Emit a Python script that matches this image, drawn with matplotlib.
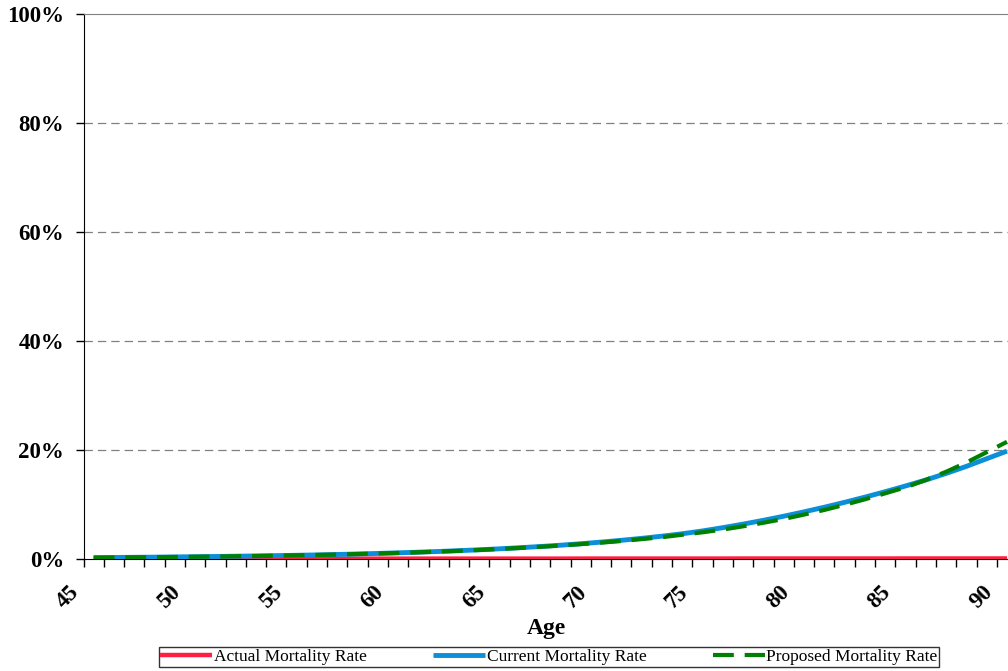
import matplotlib
matplotlib.use("Agg")
import matplotlib.pyplot as plt
from matplotlib.ticker import MultipleLocator, FuncFormatter
import numpy as np

ages = list(range(45, 91))
actual = [0.05, 0.05, 0.05, 0.05, 0.05, 0.05, 0.05, 0.05, 0.06, 0.06,
          0.06, 0.06, 0.06, 0.06, 0.06, 0.06, 0.07, 0.07, 0.07, 0.07,
          0.07, 0.07, 0.07, 0.07, 0.08, 0.08, 0.08, 0.08, 0.08, 0.08,
          0.08, 0.08, 0.09, 0.09, 0.09, 0.09, 0.09, 0.09, 0.09, 0.09,
          0.10, 0.10, 0.10, 0.10, 0.10, 0.10]
current = [0.25, 0.28, 0.31, 0.34, 0.38, 0.42, 0.46, 0.51, 0.56, 0.62,
           0.68, 0.75, 0.83, 0.92, 1.02, 1.13, 1.25, 1.38, 1.53, 1.69,
           1.87, 2.07, 2.29, 2.53, 2.80, 3.10, 3.43, 3.79, 4.19, 4.63,
           5.15, 5.75, 6.40, 7.10, 7.85, 8.65, 9.50, 10.40, 11.35, 12.35,
           13.40, 14.50, 15.70, 17.00, 18.40, 19.80]
proposed = [0.24, 0.27, 0.30, 0.33, 0.37, 0.41, 0.45, 0.50, 0.55, 0.61,
            0.67, 0.74, 0.82, 0.91, 1.01, 1.11, 1.23, 1.36, 1.50, 1.66,
            1.84, 2.03, 2.24, 2.47, 2.73, 3.00, 3.30, 3.65, 4.00, 4.45,
            4.90, 5.40, 6.00, 6.65, 7.35, 8.15, 9.00, 9.95, 10.95, 12.05,
            13.15, 14.50, 16.00, 17.70, 19.60, 21.50]
x_ticks_major = [45, 50, 55, 60, 65, 70, 75, 80, 85, 90]
y_ticks = [0, 20, 40, 60, 80, 100]

serif = ["Liberation Serif", "DejaVu Serif"]
plt.rcParams['font.family'] = serif

fig = plt.figure(figsize=(10.08, 6.71), dpi=100)
ax = fig.add_axes([83.5 / 1008, 112 / 671, 1 - 83.5 / 1008 + 0.001, 545 / 671])

xpos = np.array(ages) + 0.5  # categories centred between tick marks

l1, = ax.plot(xpos, actual, color="#FF1F44", lw=3.2, solid_capstyle="butt",
              label="Actual Mortality Rate", zorder=3)
l2, = ax.plot(xpos, current, color="#0A8FD8", lw=3.5, solid_capstyle="butt",
              label="Current Mortality Rate", zorder=4)
l3, = ax.plot(xpos, proposed, color="#008000", lw=3.0, dashes=(5, 2.6),
              dash_capstyle="butt", label="Proposed Mortality Rate", zorder=5)

ax.set_xlim(45, 90.6)
ax.set_ylim(0, 100)

ax.xaxis.set_major_locator(MultipleLocator(1))
ax.xaxis.set_major_formatter(FuncFormatter(
    lambda v, p: f"{int(round(v))}" if int(round(v)) in x_ticks_major else ""))
ax.set_yticks(y_ticks)
ax.yaxis.set_major_formatter(FuncFormatter(lambda v, p: f"{int(v)}%"))

ax.tick_params(axis="x", direction="out", length=6, width=1, color="black",
               pad=10, labelsize=16.5)
ax.tick_params(axis="y", direction="out", length=6, width=1, color="black",
               pad=8, labelsize=16.5)
for lab in ax.get_xticklabels():
    lab.set_rotation(45)
    lab.set_ha("right")
    lab.set_va("top")
    lab.set_fontweight("bold")
for lab in ax.get_yticklabels():
    lab.set_fontweight("bold")

for yv in y_ticks[1:-1]:
    ax.axhline(yv, color="#808080", lw=0.9, dashes=(6.7, 4), zorder=1)

ax.spines["left"].set_color("black")
ax.spines["bottom"].set_color("black")
ax.spines["top"].set_color("#808080")
ax.spines["right"].set_visible(False)

ax.set_xlabel("Age", fontsize=17, fontweight="bold", labelpad=4)

leg = fig.legend(handles=[l1, l2, l3], loc="center",
                 bbox_to_anchor=(549 / 1008, 14 / 671), ncol=3,
                 fontsize=12.5, frameon=True, fancybox=False, edgecolor="black",
                 handlelength=3.0, handletextpad=0.1, columnspacing=3.8,
                 borderpad=0.1, borderaxespad=0)
leg.get_frame().set_linewidth(1.0)

fig.savefig("out.png", dpi=100)
